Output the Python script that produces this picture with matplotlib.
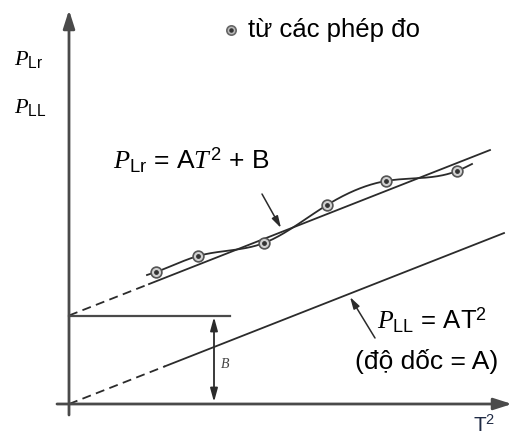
import numpy as np
import matplotlib
matplotlib.use("Agg")
import matplotlib.pyplot as plt

plt.rcParams["font.family"] = ["Liberation Sans", "DejaVu Sans"]
plt.rcParams["mathtext.fontset"] = "custom"
plt.rcParams["mathtext.rm"] = "Liberation Sans"
plt.rcParams["mathtext.it"] = "Liberation Serif:italic"

# Measured points (T^2, P_Lr)
t2_meas = [8.7, 12.9, 19.5, 25.8, 31.7, 38.8]
p_meas = [13.2, 14.8, 16.1, 19.9, 22.3, 23.3]
# ends of the smooth curve drawn through the measurements
curve_start = (7.8, 12.9)
curve_end = (40.3, 24.0)

# Fitted straight line parameters
A = 0.393
B = 8.85

# extents of the lines (in T^2 units)
fit_dash_end, fit_solid_end = 8.0, 42.1
ll_dash_end, ll_solid_end = 9.6, 43.5
b_line_end = 16.1
b_arrow_x = 14.5

INK = "#2b2b2b"
AXC = "#4a4a4a"


def natural_spline(x, y, xs):
    x = np.asarray(x, float)
    y = np.asarray(y, float)
    n = len(x)
    h = np.diff(x)
    M = np.zeros((n, n))
    r = np.zeros(n)
    M[0, 0] = M[-1, -1] = 1
    for i in range(1, n - 1):
        M[i, i - 1] = h[i - 1]
        M[i, i] = 2 * (h[i - 1] + h[i])
        M[i, i + 1] = h[i]
        r[i] = 6 * ((y[i + 1] - y[i]) / h[i] - (y[i] - y[i - 1]) / h[i - 1])
    m = np.linalg.solve(M, r)
    out = np.empty_like(xs)
    for k, xv in enumerate(xs):
        i = min(max(np.searchsorted(x, xv) - 1, 0), n - 2)
        a, b = x[i], x[i + 1]
        hh = b - a
        out[k] = (m[i] * (b - xv) ** 3 / (6 * hh) + m[i + 1] * (xv - a) ** 3 / (6 * hh)
                  + (y[i] / hh - m[i] * hh / 6) * (b - xv)
                  + (y[i + 1] / hh - m[i + 1] * hh / 6) * (xv - a))
    return out


fig = plt.figure(figsize=(5.12, 4.37), dpi=100)
ax = fig.add_axes([0, 0, 1, 1])
ax.set_xlim(-6.9, 44.3)
ax.set_ylim(-3.3, 40.4)
ax.axis("off")

# axes with arrowheads
ax.annotate("", xy=(0, 39.4), xytext=(0, -1.1),
            arrowprops=dict(arrowstyle="-|>,head_length=1.1,head_width=0.35",
                            color=AXC, lw=2, shrinkA=0, shrinkB=0))
ax.annotate("", xy=(44.3, 0), xytext=(-1.2, 0),
            arrowprops=dict(arrowstyle="-|>,head_length=1.1,head_width=0.35",
                            color=AXC, lw=2, shrinkA=0, shrinkB=0))

# P_LL = A T^2
xd = np.array([0, ll_dash_end])
ax.plot(xd, A * xd, color=INK, lw=1.3, ls=(0, (5, 3)))
xs = np.array([ll_dash_end, ll_solid_end])
ax.plot(xs, A * xs, color=INK, lw=1.3)

# P_Lr = A T^2 + B
xd = np.array([0, fit_dash_end])
ax.plot(xd, A * xd + B, color=INK, lw=1.3, ls=(0, (5, 3)))
xs = np.array([fit_dash_end, fit_solid_end])
ax.plot(xs, A * xs + B, color=INK, lw=1.3)

# smooth curve through the measurements
cx = [curve_start[0]] + t2_meas + [curve_end[0]]
cy = [curve_start[1]] + p_meas + [curve_end[1]]
xx = np.linspace(cx[0], cx[-1], 300)
ax.plot(xx, natural_spline(cx, cy, xx), color=INK, lw=1.3)

# measurement markers
ax.scatter(t2_meas, p_meas, s=60, facecolor="#d0d0d0", edgecolor="#555555",
           linewidth=1.2, zorder=5)
ax.scatter(t2_meas, p_meas, s=6, color="#333333", zorder=6)

# intercept B
ax.plot([0, b_line_end], [B, B], color=AXC, lw=1.6)
ax.annotate("", xy=(b_arrow_x, B - 0.15), xytext=(b_arrow_x, 0.2),
            arrowprops=dict(arrowstyle="<|-|>,head_length=0.8,head_width=0.22",
                            color=INK, lw=1.3, shrinkA=0, shrinkB=0))
ax.text(b_arrow_x + 0.7, B / 2 - 0.5, "B", family="Liberation Serif",
        style="italic", fontsize=10, color="#444444", va="center", ha="left")

# labels on the vertical axis
ax.text(-5.5, 33.9, r"$P_{\mathrm{Lr}}$", fontsize=16, va="baseline")
ax.text(-5.5, 29.1, r"$P_{\mathrm{LL}}$", fontsize=16, va="baseline")

# legend
ax.scatter([16.2], [37.4], s=45, facecolor="#bbbbbb", edgecolor="#666666",
           linewidth=1.2, zorder=5)
ax.scatter([16.2], [37.4], s=5, color="#333333", zorder=6)
ax.text(17.9, 37.4, "từ các phép đo", fontsize=18.5, va="center", ha="left")

# equation labels with pointers
ax.text(4.4, 24.4, r"$P_{\mathrm{Lr}}$ = A$T^{\mathrm{2}}$ + B", fontsize=19,
        va="center", ha="left")
ax.annotate("", xy=(21.2, 17.6), xytext=(19.3, 21.0),
            arrowprops=dict(arrowstyle="-|>,head_length=0.7,head_width=0.2",
                            color=INK, lw=1.1, shrinkA=0, shrinkB=0))

ax.text(30.8, 8.4, r"$P_{\mathrm{LL}}$ = AT$^{\mathrm{2}}$", fontsize=18.5,
        va="center", ha="left")
ax.text(28.6, 4.2, "(độ dốc = A)", fontsize=19, va="center", ha="left")
ax.annotate("", xy=(28.1, 10.7), xytext=(30.6, 6.6),
            arrowprops=dict(arrowstyle="-|>,head_length=0.7,head_width=0.2",
                            color=INK, lw=1.1, shrinkA=0, shrinkB=0))

ax.text(41.5, -3.2, r"T$^{\mathrm{2}}$", fontsize=15, color="#1f2a44",
        va="bottom", ha="center")

fig.savefig("out.png", dpi=100)
